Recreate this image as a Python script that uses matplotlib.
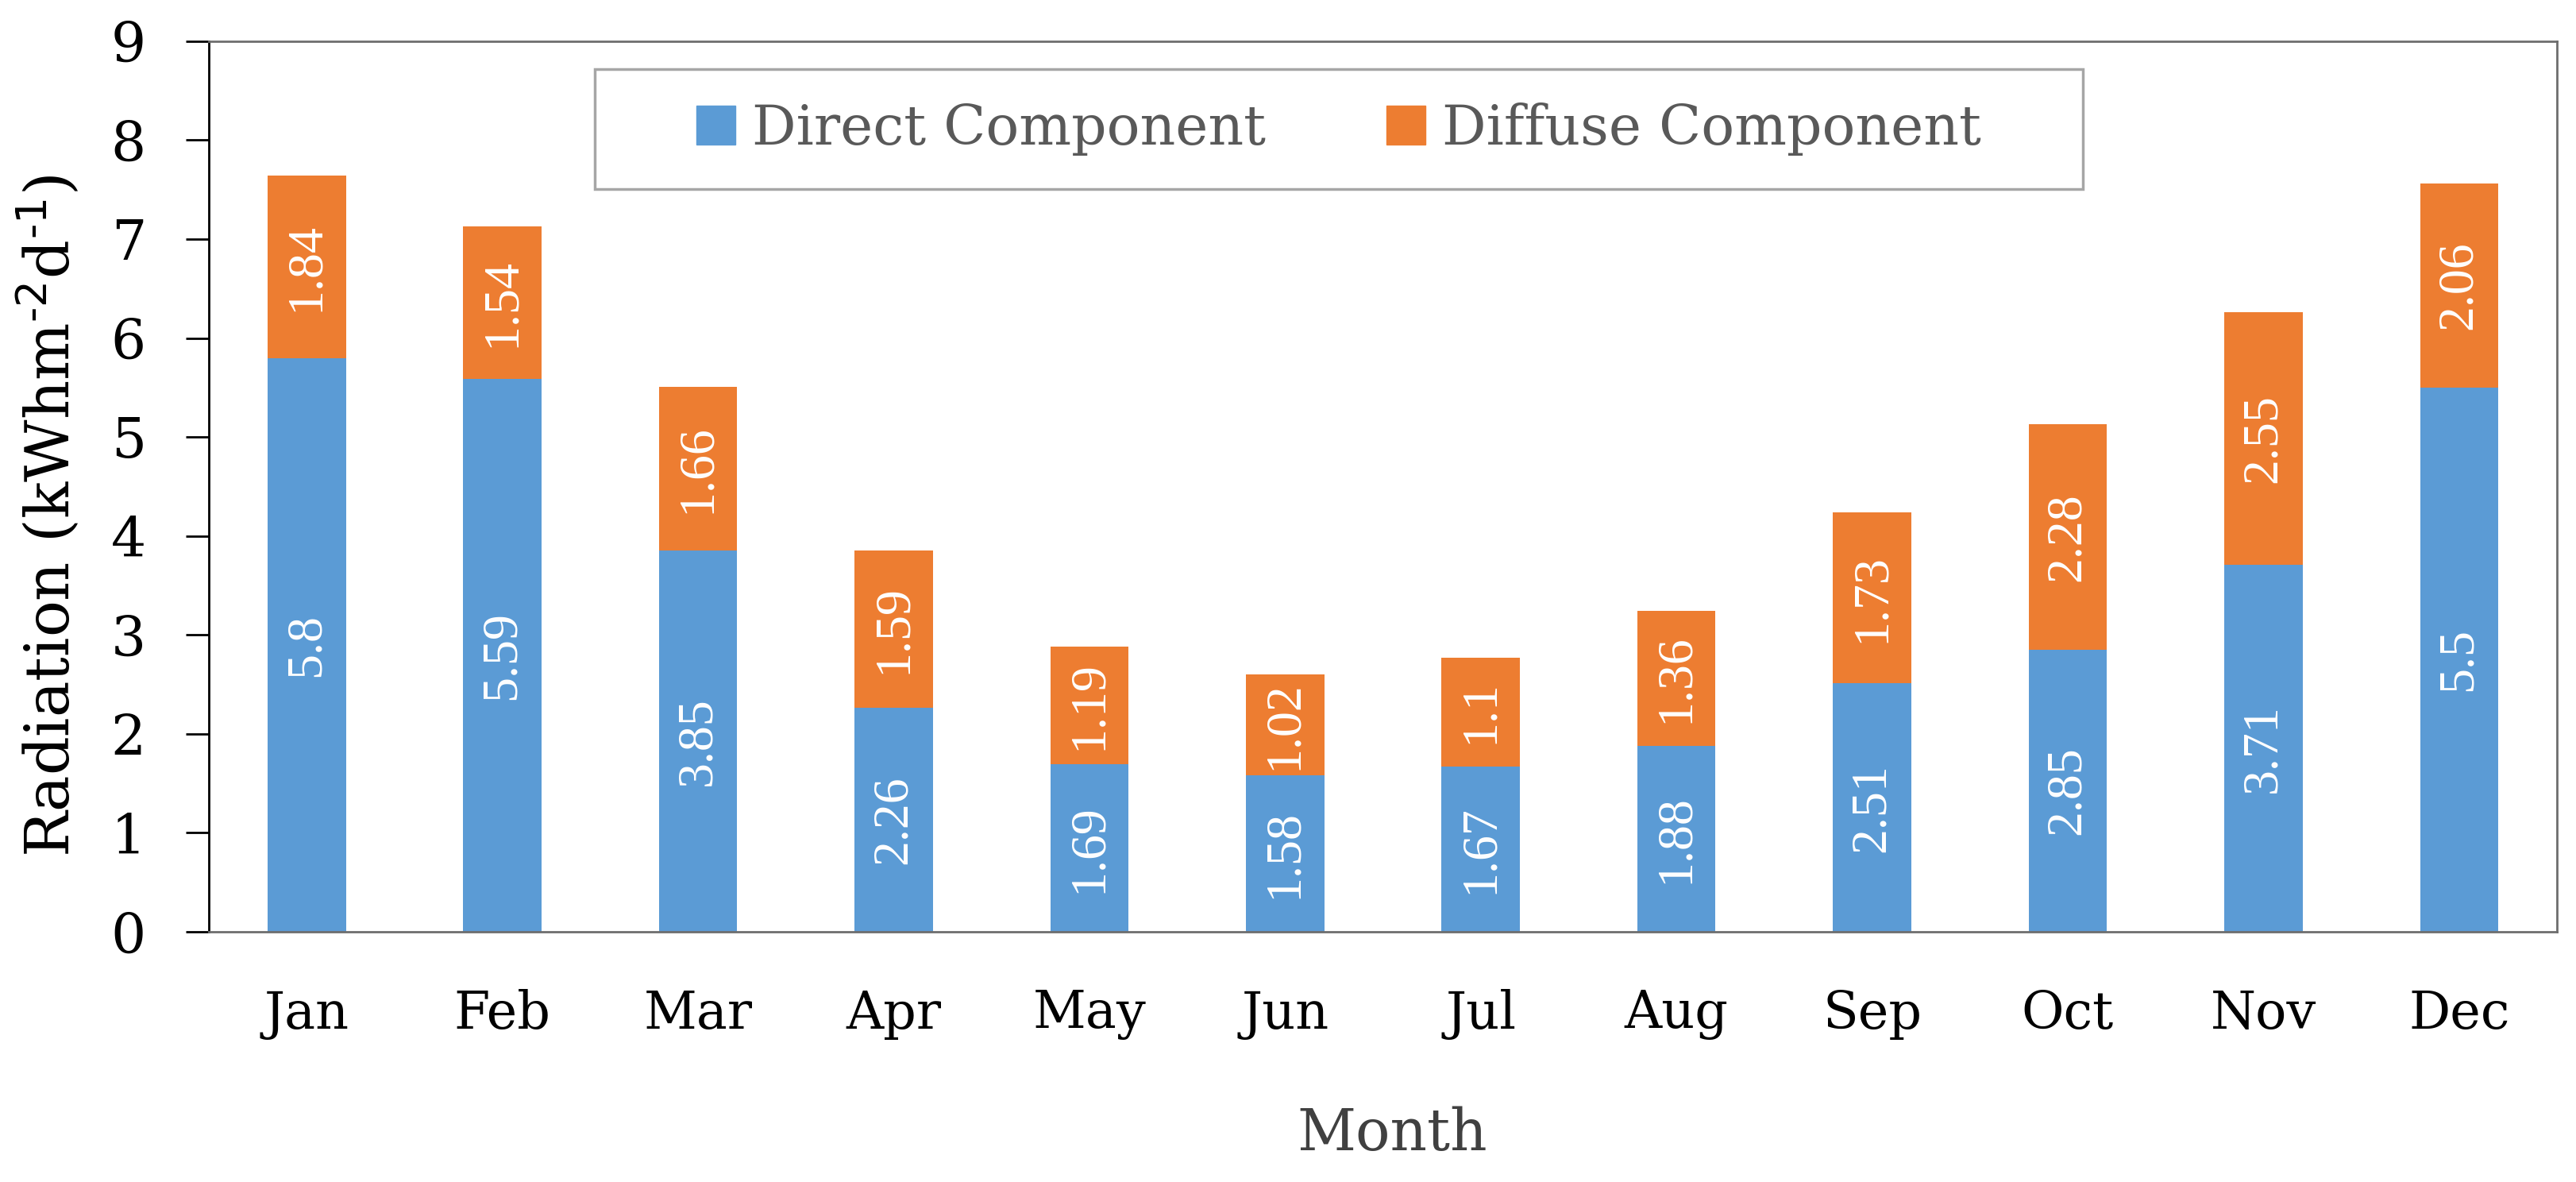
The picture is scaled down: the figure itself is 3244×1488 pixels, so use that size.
import matplotlib
matplotlib.use('Agg')
import matplotlib.pyplot as plt
from matplotlib.patches import Rectangle, Patch

months = ['Jan', 'Feb', 'Mar', 'Apr', 'May', 'Jun', 'Jul', 'Aug', 'Sep', 'Oct', 'Nov', 'Dec']
direct = [5.8, 5.59, 3.85, 2.26, 1.69, 1.58, 1.67, 1.88, 2.51, 2.85, 3.71, 5.5]
diffuse = [1.84, 1.54, 1.66, 1.59, 1.19, 1.02, 1.1, 1.36, 1.73, 2.28, 2.55, 2.06]
series_names = ['Direct Component', 'Diffuse Component']
yticks = [0, 1, 2, 3, 4, 5, 6, 7, 8, 9]

plt.rcParams['font.family'] = ['DejaVu Serif']
plt.rcParams['mathtext.default'] = 'regular'

BLUE = '#5B9BD5'
ORANGE = '#ED7D31'

fig = plt.figure(figsize=(32.44, 14.88), dpi=100)
ax = fig.add_axes([0.0811, 0.2117, 0.9115, 0.7534])

x = list(range(len(months)))
b1 = ax.bar(x, direct, width=0.4, color=BLUE, label=series_names[0])
b2 = ax.bar(x, diffuse, bottom=direct, width=0.4, color=ORANGE, label=series_names[1])

lab_kw = dict(label_type='center', rotation=90, color='white', fontsize=46,
              family='Liberation Serif')
ax.bar_label(b1, labels=[f'{v:g}' for v in direct], **lab_kw)
ax.bar_label(b2, labels=[f'{v:g}' for v in diffuse], **lab_kw)

ax.set_xlim(-0.5, len(months) - 0.5)
ax.set_ylim(0, 9)
ax.set_yticks(yticks)
ax.set_xticks(x, months)
ax.tick_params(axis='x', length=0, pad=52, labelsize=47)
ax.tick_params(axis='y', length=21, width=2, direction='out', pad=36, labelsize=50)

ax.spines['left'].set_color('black')
ax.spines['left'].set_linewidth(2)
for s in ['top', 'right', 'bottom']:
    ax.spines[s].set_color('#6E6E6E')
    ax.spines[s].set_linewidth(2)

handles = [Patch(color=BLUE), Patch(color=ORANGE)]
leg = ax.legend(handles, series_names, loc='center', bbox_to_anchor=(0.5197, 0.8908),
                bbox_transform=fig.transFigure, ncol=2, frameon=False,
                handlelength=0.7, handleheight=0.7, handletextpad=0.3,
                columnspacing=2.2, fontsize=50, labelcolor='#595959')
fig.add_artist(Rectangle((0.2309, 0.8401), 0.5777, 0.1014, transform=fig.transFigure,
                         fill=False, edgecolor='#A6A6A6', lw=2.5))

fig.text(62 / 3244, 0.5638, 'Radiation (kWhm$^{\\text{-2}}$d$^{\\text{-1}}$)', rotation=90,
         fontsize=55, ha='center', va='center')
fig.text(1753 / 3244, 0.0403, 'Month', fontsize=52, ha='center', va='center',
         color='#404040')

fig.savefig('out.png', dpi=100)
